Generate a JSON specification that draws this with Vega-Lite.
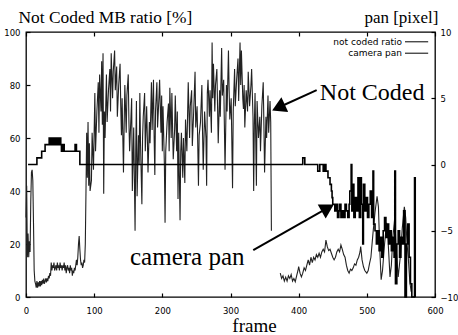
{
  "$schema": "https://vega.github.io/schema/vega-lite/v6.json",
  "width": 409,
  "height": 265,
  "autosize": {"type": "none"},
  "padding": {"left": 26, "top": 32, "right": 23, "bottom": 38},
  "background": "white",
  "config": {
    "view": {"stroke": "black", "strokeWidth": 1.3},
    "axis": {
      "domain": false, "grid": false, "ticks": true, "tickSize": -4, "tickColor": "black", "tickWidth": 1.2,
      "labelFont": "DejaVu Sans", "labelFontSize": 8.5, "labelColor": "black",
      "titleFont": "Liberation Serif", "titleColor": "black", "titleFontWeight": "normal"
    }
  },
  "datasets": {
    "ratio": [
      {"f":0,"v":30,"s":"a"},{"f":1,"v":42,"s":"a"},{"f":2,"v":15,"s":"a"},{"f":3,"v":24,"s":"a"},{"f":4,"v":15,"s":"a"},{"f":5,"v":21,"s":"a"},{"f":6,"v":17,"s":"a"},{"f":7,"v":36,"s":"a"},{"f":8,"v":47,"s":"a"},{"f":9,"v":48,"s":"a"},{"f":10,"v":44,"s":"a"},{"f":11,"v":28,"s":"a"},{"f":12,"v":10,"s":"a"},{"f":13,"v":6,"s":"a"},{"f":14,"v":5,"s":"a"},{"f":15,"v":3.5,"s":"a"},{"f":16,"v":6,"s":"a"},{"f":17,"v":3.5,"s":"a"},{"f":18,"v":5.5,"s":"a"},{"f":19,"v":4,"s":"a"},{"f":20,"v":6,"s":"a"},{"f":21,"v":4,"s":"a"},{"f":22,"v":6,"s":"a"},{"f":23,"v":4.5,"s":"a"},{"f":24,"v":6.5,"s":"a"},{"f":25,"v":5,"s":"a"},{"f":26,"v":7,"s":"a"},{"f":27,"v":5,"s":"a"},{"f":28,"v":6,"s":"a"},{"f":29,"v":7,"s":"a"},{"f":30,"v":5.5,"s":"a"},{"f":31,"v":7,"s":"a"},{"f":32,"v":6,"s":"a"},{"f":33,"v":8,"s":"a"},{"f":34,"v":7,"s":"a"},{"f":35,"v":9,"s":"a"},{"f":36,"v":8,"s":"a"},{"f":37,"v":13,"s":"a"},{"f":38,"v":10,"s":"a"},{"f":39,"v":12,"s":"a"},{"f":40,"v":11,"s":"a"},{"f":41,"v":13,"s":"a"},{"f":42,"v":10,"s":"a"},{"f":43,"v":11,"s":"a"},{"f":44,"v":12,"s":"a"},{"f":45,"v":10,"s":"a"},{"f":46,"v":13,"s":"a"},{"f":47,"v":11,"s":"a"},{"f":48,"v":12,"s":"a"},{"f":49,"v":10,"s":"a"},{"f":50,"v":13,"s":"a"},{"f":51,"v":11,"s":"a"},{"f":52,"v":12,"s":"a"},{"f":53,"v":10,"s":"a"},{"f":54,"v":12,"s":"a"},{"f":55,"v":11,"s":"a"},{"f":56,"v":13,"s":"a"},{"f":57,"v":10,"s":"a"},{"f":58,"v":12,"s":"a"},{"f":59,"v":9,"s":"a"},{"f":60,"v":11,"s":"a"},{"f":61,"v":12,"s":"a"},{"f":62,"v":10,"s":"a"},{"f":63,"v":11,"s":"a"},{"f":64,"v":9,"s":"a"},{"f":65,"v":12,"s":"a"},{"f":66,"v":10,"s":"a"},{"f":67,"v":11,"s":"a"},{"f":68,"v":8,"s":"a"},{"f":69,"v":10,"s":"a"},{"f":70,"v":9,"s":"a"},{"f":71,"v":11,"s":"a"},{"f":72,"v":10,"s":"a"},{"f":73,"v":12,"s":"a"},{"f":74,"v":14,"s":"a"},{"f":75,"v":12,"s":"a"},{"f":76,"v":15,"s":"a"},{"f":77,"v":20,"s":"a"},{"f":78,"v":23,"s":"a"},{"f":79,"v":18,"s":"a"},{"f":80,"v":14,"s":"a"},{"f":81,"v":12,"s":"a"},{"f":82,"v":13,"s":"a"},{"f":83,"v":11,"s":"a"},{"f":84,"v":12,"s":"a"},{"f":85,"v":14,"s":"a"},{"f":86,"v":13,"s":"a"},{"f":87,"v":20,"s":"a"},
      {"f":88,"v":40,"s":"a"},{"f":89,"v":62,"s":"a"},{"f":90,"v":45,"s":"a"},{"f":91,"v":66,"s":"a"},{"f":92,"v":42,"s":"a"},{"f":93,"v":58,"s":"a"},{"f":94,"v":40,"s":"a"},{"f":96,"v":44,"s":"a"},{"f":97,"v":62,"s":"a"},{"f":99,"v":48,"s":"a"},{"f":101,"v":77,"s":"a"},{"f":102,"v":55,"s":"a"},{"f":104,"v":70,"s":"a"},{"f":106,"v":81,"s":"a"},{"f":107,"v":62,"s":"a"},{"f":108,"v":84,"s":"a"},{"f":110,"v":70,"s":"a"},{"f":111,"v":89,"s":"a"},{"f":112,"v":65,"s":"a"},{"f":113,"v":92,"s":"a"},{"f":114,"v":39,"s":"a"},{"f":115,"v":70,"s":"a"},{"f":116,"v":60,"s":"a"},{"f":118,"v":84,"s":"a"},{"f":119,"v":66,"s":"a"},{"f":121,"v":78,"s":"a"},{"f":123,"v":86,"s":"a"},{"f":124,"v":70,"s":"a"},{"f":125,"v":92,"s":"a"},{"f":127,"v":75,"s":"a"},{"f":128,"v":85,"s":"a"},{"f":130,"v":93,"s":"a"},{"f":131,"v":78,"s":"a"},{"f":133,"v":87,"s":"a"},{"f":134,"v":68,"s":"a"},{"f":136,"v":80,"s":"a"},{"f":138,"v":88,"s":"a"},{"f":139,"v":72,"s":"a"},{"f":140,"v":61,"s":"a"},{"f":141,"v":75,"s":"a"},{"f":143,"v":47,"s":"a"},{"f":144,"v":65,"s":"a"},{"f":145,"v":80,"s":"a"},{"f":147,"v":62,"s":"a"},{"f":148,"v":76,"s":"a"},{"f":150,"v":84,"s":"a"},{"f":151,"v":66,"s":"a"},{"f":152,"v":55,"s":"a"},{"f":154,"v":68,"s":"a"},{"f":155,"v":75,"s":"a"},{"f":156,"v":40,"s":"a"},{"f":158,"v":64,"s":"a"},{"f":160,"v":25,"s":"a"},{"f":161,"v":55,"s":"a"},{"f":162,"v":74,"s":"a"},{"f":163,"v":38,"s":"a"},{"f":165,"v":61,"s":"a"},{"f":166,"v":50,"s":"a"},{"f":167,"v":77,"s":"a"},{"f":168,"v":58,"s":"a"},{"f":170,"v":35,"s":"a"},{"f":171,"v":60,"s":"a"},{"f":172,"v":68,"s":"a"},{"f":174,"v":77,"s":"a"},{"f":175,"v":55,"s":"a"},{"f":177,"v":72,"s":"a"},{"f":178,"v":60,"s":"a"},{"f":179,"v":47,"s":"a"},{"f":181,"v":66,"s":"a"},{"f":182,"v":58,"s":"a"},{"f":184,"v":81,"s":"a"},{"f":185,"v":63,"s":"a"},{"f":187,"v":82,"s":"a"},{"f":188,"v":60,"s":"a"},{"f":189,"v":46,"s":"a"},{"f":190,"v":70,"s":"a"},{"f":192,"v":81,"s":"a"},{"f":193,"v":64,"s":"a"},{"f":195,"v":75,"s":"a"},{"f":196,"v":82,"s":"a"},{"f":198,"v":62,"s":"a"},{"f":199,"v":76,"s":"a"},{"f":200,"v":55,"s":"a"},{"f":201,"v":72,"s":"a"},{"f":203,"v":50,"s":"a"},{"f":204,"v":28,"s":"a"},{"f":205,"v":55,"s":"a"},{"f":207,"v":66,"s":"a"},{"f":209,"v":73,"s":"a"},{"f":210,"v":55,"s":"a"},{"f":211,"v":79,"s":"a"},{"f":213,"v":60,"s":"a"},{"f":214,"v":77,"s":"a"},{"f":216,"v":52,"s":"a"},{"f":218,"v":63,"s":"a"},{"f":219,"v":76,"s":"a"},{"f":221,"v":55,"s":"a"},{"f":222,"v":70,"s":"a"},{"f":223,"v":37,"s":"a"},{"f":224,"v":62,"s":"a"},{"f":226,"v":29,"s":"a"},{"f":227,"v":55,"s":"a"},{"f":228,"v":62,"s":"a"},{"f":230,"v":45,"s":"a"},{"f":231,"v":60,"s":"a"},{"f":233,"v":43,"s":"a"},{"f":234,"v":67,"s":"a"},{"f":236,"v":55,"s":"a"},{"f":238,"v":81,"s":"a"},{"f":240,"v":60,"s":"a"},{"f":241,"v":72,"s":"a"},{"f":243,"v":78,"s":"a"},{"f":244,"v":57,"s":"a"},{"f":246,"v":70,"s":"a"},{"f":248,"v":85,"s":"a"},{"f":249,"v":64,"s":"a"},{"f":251,"v":72,"s":"a"},{"f":253,"v":42,"s":"a"},{"f":254,"v":61,"s":"a"},{"f":256,"v":66,"s":"a"},{"f":258,"v":80,"s":"a"},{"f":259,"v":62,"s":"a"},{"f":260,"v":48,"s":"a"},{"f":262,"v":70,"s":"a"},{"f":264,"v":60,"s":"a"},{"f":265,"v":42,"s":"a"},{"f":266,"v":77,"s":"a"},{"f":267,"v":82,"s":"a"},{"f":269,"v":68,"s":"a"},{"f":270,"v":78,"s":"a"},{"f":272,"v":62,"s":"a"},{"f":273,"v":96,"s":"a"},{"f":274,"v":75,"s":"a"},{"f":275,"v":88,"s":"a"},{"f":277,"v":70,"s":"a"},{"f":278,"v":80,"s":"a"},{"f":280,"v":86,"s":"a"},{"f":281,"v":72,"s":"a"},{"f":282,"v":58,"s":"a"},{"f":284,"v":78,"s":"a"},{"f":285,"v":68,"s":"a"},{"f":287,"v":94,"s":"a"},{"f":288,"v":76,"s":"a"},{"f":290,"v":82,"s":"a"},{"f":291,"v":65,"s":"a"},{"f":292,"v":48,"s":"a"},{"f":294,"v":80,"s":"a"},{"f":295,"v":70,"s":"a"},{"f":297,"v":93,"s":"a"},{"f":298,"v":78,"s":"a"},{"f":299,"v":67,"s":"a"},{"f":301,"v":75,"s":"a"},{"f":303,"v":41,"s":"a"},{"f":304,"v":70,"s":"a"},{"f":306,"v":86,"s":"a"},{"f":307,"v":72,"s":"a"},{"f":309,"v":82,"s":"a"},{"f":311,"v":90,"s":"a"},{"f":312,"v":74,"s":"a"},{"f":314,"v":96,"s":"a"},{"f":315,"v":80,"s":"a"},{"f":316,"v":93,"s":"a"},{"f":318,"v":75,"s":"a"},{"f":319,"v":71,"s":"a"},{"f":320,"v":80,"s":"a"},{"f":321,"v":64,"s":"a"},{"f":323,"v":78,"s":"a"},{"f":325,"v":70,"s":"a"},{"f":326,"v":85,"s":"a"},{"f":328,"v":72,"s":"a"},{"f":330,"v":80,"s":"a"},{"f":331,"v":86,"s":"a"},{"f":333,"v":68,"s":"a"},{"f":334,"v":40,"s":"a"},{"f":335,"v":65,"s":"a"},{"f":336,"v":77,"s":"a"},{"f":337,"v":60,"s":"a"},{"f":338,"v":42,"s":"a"},{"f":339,"v":74,"s":"a"},{"f":341,"v":60,"s":"a"},{"f":343,"v":68,"s":"a"},{"f":344,"v":55,"s":"a"},{"f":346,"v":72,"s":"a"},{"f":348,"v":81,"s":"a"},{"f":349,"v":65,"s":"a"},{"f":350,"v":47,"s":"a"},{"f":352,"v":68,"s":"a"},{"f":353,"v":60,"s":"a"},{"f":355,"v":76,"s":"a"},{"f":356,"v":62,"s":"a"},{"f":358,"v":74,"s":"a"},{"f":359,"v":66,"s":"a"},{"f":360,"v":25,"s":"a"},
      {"f":373,"v":9,"s":"b"},{"f":375,"v":7,"s":"b"},{"f":377,"v":8,"s":"b"},{"f":379,"v":6,"s":"b"},{"f":381,"v":7.5,"s":"b"},{"f":383,"v":6,"s":"b"},{"f":385,"v":8,"s":"b"},{"f":387,"v":7,"s":"b"},{"f":389,"v":8.5,"s":"b"},{"f":391,"v":6,"s":"b"},{"f":393,"v":7,"s":"b"},{"f":395,"v":5.8,"s":"b"},{"f":397,"v":8,"s":"b"},{"f":399,"v":10,"s":"b"},{"f":400,"v":11.5,"s":"b"},{"f":402,"v":9,"s":"b"},{"f":404,"v":7.6,"s":"b"},{"f":406,"v":9,"s":"b"},{"f":408,"v":11,"s":"b"},{"f":410,"v":10,"s":"b"},{"f":412,"v":12,"s":"b"},{"f":414,"v":14,"s":"b"},{"f":416,"v":12,"s":"b"},{"f":418,"v":15,"s":"b"},{"f":420,"v":13,"s":"b"},{"f":422,"v":15,"s":"b"},{"f":424,"v":14,"s":"b"},{"f":426,"v":16,"s":"b"},{"f":428,"v":15,"s":"b"},{"f":430,"v":16.5,"s":"b"},{"f":432,"v":15,"s":"b"},{"f":434,"v":17,"s":"b"},{"f":436,"v":18,"s":"b"},{"f":438,"v":17,"s":"b"},{"f":440,"v":21.5,"s":"b"},{"f":442,"v":19,"s":"b"},{"f":444,"v":17.5,"s":"b"},{"f":446,"v":18,"s":"b"},{"f":448,"v":16.5,"s":"b"},{"f":450,"v":15,"s":"b"},{"f":452,"v":14,"s":"b"},{"f":454,"v":15,"s":"b"},{"f":456,"v":17,"s":"b"},{"f":458,"v":18,"s":"b"},{"f":460,"v":17,"s":"b"},{"f":462,"v":19.6,"s":"b"},{"f":464,"v":18,"s":"b"},{"f":466,"v":16,"s":"b"},{"f":468,"v":15,"s":"b"},{"f":470,"v":12,"s":"b"},{"f":472,"v":10,"s":"b"},{"f":474,"v":9,"s":"b"},{"f":476,"v":10.5,"s":"b"},{"f":478,"v":10,"s":"b"},{"f":480,"v":11,"s":"b"},{"f":482,"v":12.5,"s":"b"},{"f":484,"v":12,"s":"b"},{"f":486,"v":14,"s":"b"},{"f":488,"v":15,"s":"b"},{"f":490,"v":17,"s":"b"},{"f":491,"v":19,"s":"b"},{"f":493,"v":14,"s":"b"},{"f":495,"v":11.5,"s":"b"},{"f":497,"v":10,"s":"b"},{"f":500,"v":9,"s":"b"},{"f":502,"v":10,"s":"b"},{"f":504,"v":12.7,"s":"b"},{"f":506,"v":15,"s":"b"},{"f":509,"v":24,"s":"b"},{"f":512,"v":32,"s":"b"},{"f":515,"v":38,"s":"b"},{"f":517,"v":34,"s":"b"},{"f":519,"v":18,"s":"b"},{"f":521,"v":6.5,"s":"b"},{"f":523,"v":10,"s":"b"},{"f":526,"v":20,"s":"b"},{"f":529,"v":28,"s":"b"},{"f":531,"v":22,"s":"b"},{"f":534,"v":7.6,"s":"b"},{"f":536,"v":12,"s":"b"},{"f":538,"v":22,"s":"b"},{"f":541,"v":30,"s":"b"},{"f":543,"v":18,"s":"b"},{"f":546,"v":7.6,"s":"b"},{"f":549,"v":15,"s":"b"},{"f":552,"v":26,"s":"b"},{"f":555,"v":34,"s":"b"},{"f":557,"v":30,"s":"b"},{"f":559,"v":20,"s":"b"},{"f":561,"v":14,"s":"b"},{"f":563,"v":6,"s":"b"},{"f":565,"v":2,"s":"b"}
    ],
    "pan": [
      {"f":3,"p":0},{"f":16,"p":0.5},{"f":23,"p":1},{"f":28,"p":1.5},{"f":34,"p":2},{"f":35,"p":1.5},{"f":37,"p":2},{"f":38,"p":1.5},{"f":40,"p":2},{"f":41,"p":1.5},{"f":43,"p":2},{"f":45,"p":1.5},{"f":47,"p":2},{"f":48,"p":1.5},{"f":50,"p":2},{"f":51,"p":1.5},{"f":52,"p":1},{"f":54,"p":1.5},{"f":56,"p":1},{"f":72,"p":1.5},{"f":74,"p":1},{"f":79,"p":0},
      {"f":406,"p":0.5},{"f":409,"p":0},{"f":428,"p":-0.5},{"f":431,"p":0},{"f":436,"p":-0.5},{"f":438,"p":0},{"f":440,"p":-0.5},{"f":443,"p":-1},{"f":446,"p":-1.5},{"f":448,"p":-2},{"f":449,"p":-2.5},{"f":450,"p":-3},{"f":453,"p":-3.5},{"f":455,"p":-3},{"f":457,"p":-4},{"f":459,"p":-3.5},{"f":460,"p":-3},{"f":462,"p":-4},{"f":464,"p":-3.5},{"f":466,"p":-4},{"f":468,"p":-3},{"f":470,"p":-3.5},{"f":472,"p":-4},{"f":474,"p":-3},{"f":475,"p":-2},{"f":477,"p":0},{"f":478,"p":-3.5},{"f":480,"p":-1.5},{"f":481,"p":-4},{"f":483,"p":-2.5},{"f":485,"p":-3.5},{"f":487,"p":-1},{"f":489,"p":-4},{"f":491,"p":-1},{"f":492,"p":-3},{"f":494,"p":-6},{"f":495,"p":-1.5},{"f":497,"p":-3.5},{"f":499,"p":-2.5},{"f":501,"p":-4},{"f":503,"p":-3},{"f":505,"p":-2},{"f":507,"p":-4},{"f":509,"p":-0.5},{"f":510,"p":-4.5},{"f":512,"p":-5},{"f":514,"p":-6},{"f":516,"p":-5},{"f":518,"p":-6.5},{"f":520,"p":-5.5},{"f":522,"p":-7},{"f":524,"p":-5},{"f":526,"p":-4},{"f":528,"p":-5.5},{"f":530,"p":-4.5},{"f":532,"p":-6},{"f":534,"p":-5},{"f":536,"p":-6.5},{"f":538,"p":-5.5},{"f":540,"p":-7},{"f":541,"p":-0.5},{"f":542,"p":-9},{"f":544,"p":-6},{"f":546,"p":-5},{"f":548,"p":-7},{"f":550,"p":-5.5},{"f":552,"p":-6},{"f":554,"p":-3.5},{"f":556,"p":-10},{"f":558,"p":-6},{"f":560,"p":-4.5},{"f":562,"p":-7},{"f":564,"p":-9},{"f":566,"p":-10},{"f":569,"p":-10},{"f":570,"p":-1},{"f":571,"p":-10}
    ],
    "note1": [{"t":"Not Coded","f":431,"v":74.3}],
    "note2": [{"t":"camera pan","f":152.6,"v":12.1}],
    "arrows": [{"f":426.4,"v":78.1,"f2":370.4,"v2":71.5},{"f":333.4,"v":17.7,"f2":442.7,"v2":33.6}],
    "head1": [{"f":370.4,"v":71.5}],
    "head2": [{"f":442.7,"v":33.6}],
    "legtext": [{"t":"not coded ratio","f":551.6,"v":96.3},{"t":"camera pan","f":551.6,"v":92.0}],
    "legline": [{"f":556,"f2":590,"v":96.3},{"f":556,"f2":590,"v":92.0}]
  },
  "layer": [
    {
      "encoding": {
        "x": {"field": "f", "type": "quantitative", "scale": {"domain": [0, 600], "nice": false},
              "axis": {"orient": "bottom", "values": [0,100,200,300,400,500,600], "title": "frame", "titleFontSize": 19, "titleX": 228, "titleY": 34, "titleAlign": "center", "titleBaseline": "alphabetic", "labelPadding": 13, "labelFlush": false}},
        "y": {"field": "v", "type": "quantitative", "scale": {"domain": [0, 100], "nice": false},
              "axis": {"orient": "left", "values": [0,20,40,60,80,100], "title": "Not Coded MB ratio [%]", "titleFontSize": 17.4, "titleAngle": 0, "titleAlign": "left", "titleBaseline": "alphabetic", "titleX": -8, "titleY": -10, "labelPadding": 10}}
      },
      "layer": [
        {
          "data": {"name": "ratio"},
          "mark": {"type": "line", "color": "#222222", "strokeWidth": 1.1},
          "encoding": {"detail": {"field": "s"}}
        },
        {
          "data": {"name": "note1"},
          "mark": {"type": "text", "font": "Liberation Serif", "fontSize": 24, "align": "left", "baseline": "alphabetic", "color": "black"},
          "encoding": {"text": {"field": "t"}}
        },
        {
          "data": {"name": "note2"},
          "mark": {"type": "text", "font": "Liberation Serif", "fontSize": 25, "align": "left", "baseline": "alphabetic", "color": "black"},
          "encoding": {"text": {"field": "t"}}
        },
        {
          "data": {"name": "arrows"},
          "mark": {"type": "rule", "color": "black", "strokeWidth": 2},
          "encoding": {"x2": {"field": "f2"}, "y2": {"field": "v2"}}
        },
        {
          "data": {"name": "head1"},
          "mark": {"type": "point", "shape": "triangle-up", "filled": true, "color": "black", "opacity": 1, "size": 260, "angle": 245}
        },
        {
          "data": {"name": "head2"},
          "mark": {"type": "point", "shape": "triangle-up", "filled": true, "color": "black", "opacity": 1, "size": 260, "angle": 60.5}
        },
        {
          "data": {"name": "legtext"},
          "mark": {"type": "text", "font": "DejaVu Sans", "fontSize": 9, "align": "right", "baseline": "middle", "color": "black"},
          "encoding": {"text": {"field": "t"}}
        },
        {
          "data": {"name": "legline"},
          "mark": {"type": "rule", "color": "black", "strokeWidth": 1},
          "encoding": {"x2": {"field": "f2"}}
        }
      ]
    },
    {
      "data": {"name": "pan"},
      "mark": {"type": "line", "color": "black", "strokeWidth": 1.6, "interpolate": "step-after"},
      "encoding": {
        "x": {"field": "f", "type": "quantitative", "scale": {"domain": [0, 600], "nice": false},
              "axis": {"orient": "top", "values": [0,100,200,300,400,500,600], "labels": false, "title": null}},
        "y": {"field": "p", "type": "quantitative", "scale": {"domain": [-10, 10], "nice": false},
              "axis": {"orient": "right", "values": [-10,-5,0,5,10], "title": "pan [pixel]", "titleFontSize": 17, "titleAngle": 0, "titleAlign": "right", "titleBaseline": "alphabetic", "titleX": 3, "titleY": -10, "labelPadding": 9}}
      }
    }
  ],
  "resolve": {"scale": {"x": "independent", "y": "independent"}, "axis": {"x": "independent", "y": "independent"}}
}
